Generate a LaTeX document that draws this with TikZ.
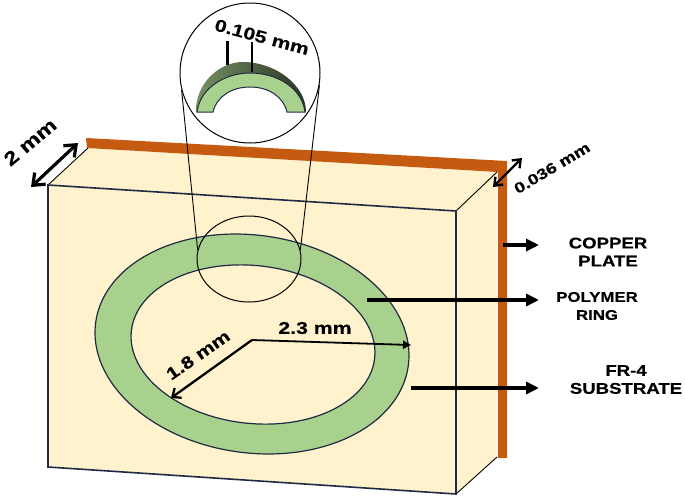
\documentclass[tikz,border=0pt]{standalone}
\usepackage{fontspec}
\setmainfont{Liberation Sans}
\newfontface\dimfont{Liberation Sans Bold}[FakeStretch=1.25,FakeBold=0.4]
\newfontface\lblfont{Liberation Sans Bold}[FakeStretch=1.2,FakeBold=0.4]
\usetikzlibrary{arrows.meta,shapes.geometric}
\definecolor{copperc}{HTML}{C55A11}
\definecolor{creamc}{HTML}{FFF2CC}
\definecolor{ringc}{HTML}{A9D18E}
\definecolor{edgec}{HTML}{1F2A44}
\tikzset{
  lbl/.style={font=\lblfont\fontsize{15.5}{18}\selectfont,align=center,text=black,inner sep=0pt},
  dim/.style={font=\dimfont\fontsize{17}{17}\selectfont,text=black,inner sep=0pt},
  bigarrow/.style={line width=3.2pt,-{Triangle[length=13pt,width=12pt]},black},
  dblarrow/.style={line width=3.2pt,{Straight Barb[length=10pt,width=16pt]}-{Straight Barb[length=10pt,width=16pt]},black},
  edge/.style={draw=edgec,line width=1.6pt},
  thin/.style={draw=black,line width=0.9pt}
}
\begin{document}
\begin{tikzpicture}[x=1pt,y=-1pt]
\useasboundingbox (0,0) rectangle (685,498);
% coordinates
\coordinate (fl) at (48,185);
\coordinate (fr) at (456,211);
\coordinate (br) at (456,494);
\coordinate (bl) at (48,467);
\coordinate (tl) at (88,148);
\coordinate (tr) at (497,172);
\coordinate (rb) at (497,457);
% body
\fill[creamc] (fl)--(tl)--(tr)--(rb)--(br)--(bl)--cycle;
\fill[copperc] (86,138)--(507,161)--(507,458)--(498,458)--(498,172)--(87,148)--cycle;
\draw[thin] (fl)--(tl);
\draw[thin] (fr)--(tr);
\draw[thin] (br)--(rb);
% ring
\fill[ringc,even odd rule]
  (252,344) ellipse [x radius=157.8,y radius=108.8,rotate=-8]
  (253,344.5) ellipse [x radius=122.4,y radius=78.9,rotate=-6.5];
\draw[edge,line width=1.2pt] (252,344) ellipse [x radius=157.8,y radius=108.8,rotate=-8];
\draw[edge,line width=1.2pt] (253,344.5) ellipse [x radius=122.4,y radius=78.9,rotate=-6.5];
\draw[edge] (fl)--(fr)--(br)--(bl)--cycle;
% magnified
\node[ellipse,draw=black,line width=1pt,minimum width=104pt,minimum height=86pt,inner sep=0pt] (small) at (249,259) {};
\node[circle,draw=black,line width=1pt,minimum size=140pt,inner sep=0pt] (big) at (250,73) {};
\draw[thin] (big.194)--(small.170);
\draw[thin] (big.-10)--(small.10);
% 3D ring detail
\shade[left color=ringc!70!black,right color=ringc!25!black] (196,112) .. controls (195,85) and (218,62) .. (243,62) .. controls (275,62) and (306,85) .. (306,112) -- (305,112) .. controls (302,88) and (277,73) .. (250,73) .. controls (225,73) and (200,88) .. (197,112) -- cycle;
\fill[ringc,draw=edgec,line width=1pt] (197,112) .. controls (200,88) and (225,73) .. (250,73) .. controls (277,73) and (302,88) .. (305,112) -- (287,112) .. controls (283,96) and (268,87) .. (250,87) .. controls (232,87) and (217,96) .. (213,112) -- cycle;
\draw[line width=2.3pt] (227.5,41)--(227.5,65);
\draw[line width=2.3pt] (252,42)--(252,72);
\node[dim,rotate=-15] (t105) at (262,37) {0.105 mm};
% arrows
\node[dim,font=\dimfont\fontsize{19}{19}\selectfont,rotate=40] (t2) at (30,142) {2 mm};
\coordinate (d1) at (31,187);
\coordinate (d2) at (78,143);
\draw[dblarrow] (d1)--(d2);
\node[dim,font=\dimfont\fontsize{15}{15}\selectfont,rotate=31] (t036) at (552,168) {0.036 mm};
\coordinate (e1) at (493,187);
\coordinate (e2) at (522,158);
\draw[line width=2.4pt,{Straight Barb[length=7pt,width=11pt]}-{Straight Barb[length=7pt,width=11pt]}] (e1)--(e2);
\node[lbl] (copper) at (608,252) {COPPER\\PLATE};
\node[lbl,font=\lblfont\fontsize{14}{18}\selectfont] (poly) at (597,306) {POLYMER\\RING};
\node[lbl] (fr4) at (626,379.5) {FR-4\\SUBSTRATE};
\coordinate (a1) at (503,245);
\coordinate (a2) at (539,245);
\draw[bigarrow] (a1)--(a2);
\coordinate (b1) at (367,300);
\coordinate (b2) at (539,300);
\draw[bigarrow] (b1)--(b2);
\coordinate (c1) at (411,388);
\coordinate (c2) at (539,388);
\draw[bigarrow] (c1)--(c2);
\coordinate (o) at (252,340);
\coordinate (r1) at (411,345);
\coordinate (r2) at (171,398);
\draw[line width=1.8pt,-{Triangle[length=8pt,width=8pt]}] (o)--(r1);
\draw[line width=2.3pt,-{Straight Barb[length=7pt,width=12pt]}] (o)--(r2);
\node[dim] (t23) at (315,328) {2.3 mm};
\node[dim,rotate=35] (t18) at (198,355) {1.8 mm};
\end{tikzpicture}
\end{document}
